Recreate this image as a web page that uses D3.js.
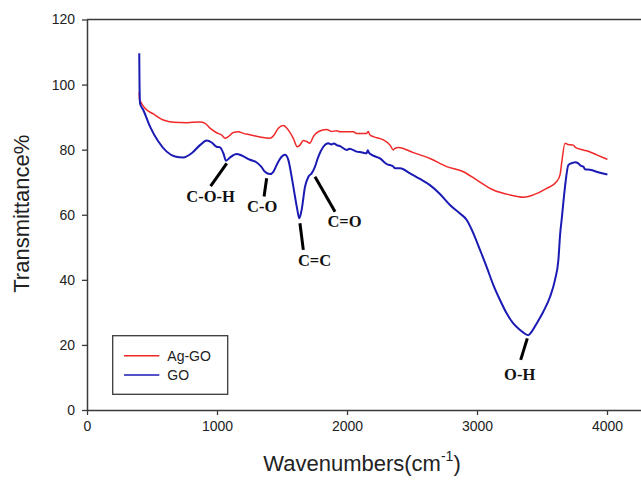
<!DOCTYPE html>
<html><head><meta charset="utf-8">
<script src="https://cdn.jsdelivr.net/npm/d3@7"></script>
<style>body{margin:0;background:#fff}svg{display:block}</style>
</head><body>
<svg id="c" width="641" height="481"></svg>
<script>
const xTicks = [0, 1000, 2000, 3000, 4000];
const yTicks = [0, 20, 40, 60, 80, 100, 120];
const seriesNames = ["Ag-GO", "GO"];

const goWave = [402,404,408,433,485,549,613,677,741,805,869,921,959,997,1023,1049,1069,1100,1151,1190,1254,1300,1340,1369,1408,1433,1459,1497,1523,1549,1574,1600,1618,1633,1651,1677,1703,1728,1754,1779,1818,1856,1880,1900,1921,1950,1997,2020,2036,2074,2110,2151,2160,2170,2190,2254,2305,2356,2370,2408,2485,2562,2638,2715,2792,2869,2921,2972,3023,3074,3126,3177,3228,3279,3331,3395,3421,3459,3510,3562,3600,3626,3640,3651,3677,3703,3741,3754,3779,3800,3818,3830,3869,3946,4003];
const goT = [109.6,100,94.2,92.2,87.1,82.5,79.4,77.9,77.6,78.9,81.4,82.8,82.2,80.9,80.7,78.9,76.6,77.6,78.7,78.2,76.9,76.2,74.8,73.2,72.5,73.2,75.3,77.8,78.4,76.8,71.7,65.6,61.5,58.9,61.5,68.6,71.7,72.7,74.8,77.8,80.9,82.0,81.6,81.9,81.4,81.0,79.9,80.3,80.1,79.4,79.2,78.9,79.8,79.0,78.4,77.3,75.6,74.8,74.3,74.3,72.7,71.0,69.1,66.4,63.0,60.4,58.4,54.3,49.2,44.0,38.4,33.8,29.7,26.6,24.6,23.0,24.1,26.6,30.2,34.8,40.0,46.1,54.3,58.4,68.6,75.3,76.0,76.1,75.8,75.0,74.8,74.0,73.8,72.9,72.4];

const agWave = [402,404,413,446,510,587,664,767,869,908,946,997,1036,1062,1087,1126,1164,1203,1254,1331,1408,1433,1472,1510,1549,1587,1618,1638,1664,1690,1715,1741,1779,1844,1880,1921,1946,1997,2049,2074,2151,2164,2175,2203,2279,2331,2356,2369,2395,2510,2638,2767,2895,2997,3126,3254,3356,3433,3536,3613,3640,3651,3677,3700,3741,3760,3818,3850,3921,4003];
const agT = [97.8,95.5,94.7,92.7,91.0,89.1,88.4,88.3,88.5,88.1,86.6,85.2,84.5,83.5,84.0,85.3,85.5,85.0,84.6,83.9,83.5,84.2,86.6,87.4,86.0,83.5,80.9,81.4,82.8,82.5,82.0,84.0,85.5,86.2,85.6,85.8,85.5,85.5,85.5,85.0,85.0,85.6,84.6,84.0,83.0,81.4,79.9,80.4,80.7,79.1,77.3,74.8,73.2,70.7,67.6,66.1,65.4,66.1,68.1,70.2,72.5,75.8,82.0,81.6,81.4,80.6,79.9,79.6,78.4,77.0];

// annotations: label, line start (wavenumber, %), line end, text anchor point
const annLabels = ["C-O-H", "C-O", "C=C", "C=O", "O-H"];
const annFrom = [[1075,75.8],[1382,71.2],[1638,57.4],[1754,71.7],[3387,22.0]];
const annTo   = [[951,68.8],[1362,65.6],[1664,49.2],[1908,60.9],[3336,15.4]];
const annText = [[951,63.8],[1348,60.9],[1750,44.3],[1981,56.1],[3328,9.2]];

const svg = d3.select("#c");
const L = 87, T = 19.5, B = 410, R = 646;
const x = d3.scaleLinear().domain([0, 4300]).range([L, R]);
const y = d3.scaleLinear().domain([0, 120]).range([B, T]);

const axisColor = "#3a3a3a";
// top frame
svg.append("line").attr("x1", L).attr("x2", R).attr("y1", T).attr("y2", T)
  .attr("stroke", axisColor).attr("stroke-width", 1.5);

const gx = svg.append("g").attr("transform", `translate(0,${B})`)
  .call(d3.axisBottom(x).tickValues(xTicks).tickFormat(d3.format("d")).tickSize(5).tickPadding(6).tickSizeOuter(0));
const gy = svg.append("g").attr("transform", `translate(${L},0)`)
  .call(d3.axisLeft(y).tickValues(yTicks).tickFormat(d3.format("d")).tickSize(5).tickPadding(7).tickSizeOuter(0));
[gx, gy].forEach(g => {
  g.select(".domain").attr("stroke", axisColor).attr("stroke-width", 1.5);
  g.selectAll(".tick line").attr("stroke", axisColor).attr("stroke-width", 1.3);
  g.selectAll(".tick text").attr("fill", "#222").style("font-family", "Arial, 'Liberation Sans', sans-serif").style("font-size", "14px");
});

const line = d3.line().curve(d3.curveMonotoneX).x(d => x(d[0])).y(d => y(d[1]));
const agData = agWave.map((w, i) => [w, agT[i]]);
const goData = goWave.map((w, i) => [w, goT[i]]);
svg.append("path").datum(agData).attr("d", line).attr("fill", "none")
  .attr("stroke", "#f02828").attr("stroke-width", 1.5).attr("stroke-linejoin", "round");
svg.append("path").datum(goData).attr("d", line).attr("fill", "none")
  .attr("stroke", "#1a1ab4").attr("stroke-width", 2).attr("stroke-linejoin", "round");

// annotations
annLabels.forEach((lab, i) => {
  svg.append("line")
    .attr("x1", x(annFrom[i][0])).attr("y1", y(annFrom[i][1]))
    .attr("x2", x(annTo[i][0])).attr("y2", y(annTo[i][1]))
    .attr("stroke", "#000").attr("stroke-width", 3);
  svg.append("text").attr("x", x(annText[i][0])).attr("y", y(annText[i][1]))
    .attr("text-anchor", "middle")
    .style("font-family", "'Times New Roman', 'Liberation Serif', serif")
    .style("font-weight", "bold").style("font-size", "16.5px").attr("fill", "#111")
    .text(lab);
});

// legend
const lg = svg.append("g");
lg.append("rect").attr("x", 112.7).attr("y", 335.7).attr("width", 115).attr("height", 58.6)
  .attr("fill", "#fff").attr("stroke", axisColor).attr("stroke-width", 1.3);
const legColors = ["#f02828", "#1a1ab4"];
seriesNames.forEach((n, i) => {
  const yy = 355.7 + i * 19.3;
  lg.append("line").attr("x1", 124).attr("x2", 159.3).attr("y1", yy).attr("y2", yy)
    .attr("stroke", legColors[i]).attr("stroke-width", 1.5);
  lg.append("text").attr("x", 167.3).attr("y", yy + 5)
    .style("font-family", "Arial, 'Liberation Sans', sans-serif").style("font-size", "14px")
    .attr("fill", "#222").text(n);
});

// axis titles
svg.append("text").attr("transform", "translate(29,213.7) rotate(-90)")
  .attr("text-anchor", "middle")
  .style("font-family", "Arial, 'Liberation Sans', sans-serif").style("font-size", "22px")
  .attr("fill", "#222").text("Transmittance%");
const xt = svg.append("text").attr("x", 362).attr("y", 471).attr("text-anchor", "middle")
  .style("font-family", "Arial, 'Liberation Sans', sans-serif").style("font-size", "22px")
  .attr("fill", "#222");
xt.append("tspan").text("Wavenumbers(cm");
xt.append("tspan").attr("dy", -10).style("font-size", "14px").text("-1");
xt.append("tspan").attr("dy", 10).text(")");
</script>
</body></html>
